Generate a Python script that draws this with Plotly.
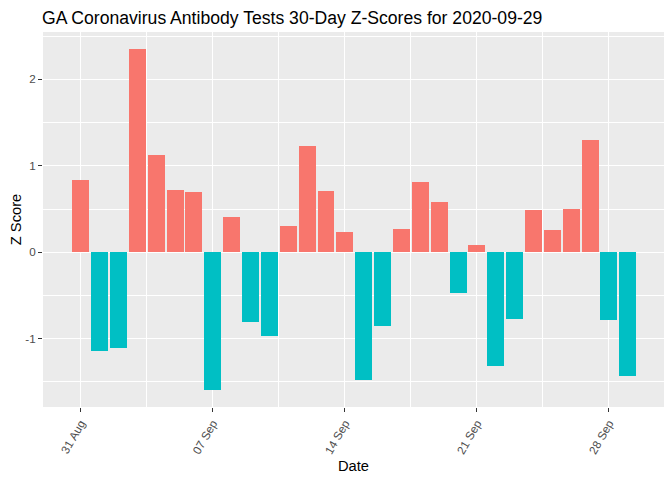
import plotly.graph_objects as go
import pandas as pd

dates = pd.date_range("2020-08-31", "2020-09-29", freq="D").strftime("%Y-%m-%d").tolist()
z_scores = [0.834, -1.143, -1.108, 2.351, 1.124, 0.718, 0.695, -1.595, 0.405, -0.807,
            -0.969, 0.301, 1.228, 0.707, 0.232, -1.479, -0.853, 0.266, 0.811, 0.579,
            -0.471, 0.081, -1.317, -0.772, 0.486, 0.255, 0.498, 1.297, -0.784, -1.432]
x_tick_vals = ["2020-08-31", "2020-09-07", "2020-09-14", "2020-09-21", "2020-09-28"]
x_tick_text = ["31 Aug", "07 Sep", "14 Sep", "21 Sep", "28 Sep"]
y_tick_vals = [-1, 0, 1, 2]
y_tick_text = ["-1", "0", "1", "2"]

POS = "#F8766D"
NEG = "#00BFC4"
colors = [POS if v > 0 else NEG for v in z_scores]

fig = go.Figure(go.Bar(
    x=dates, y=z_scores, marker=dict(color=colors, line=dict(width=0)),
    width=0.9 * 86400000, showlegend=False,
))

font = "Liberation Sans, Arial, sans-serif"
fig.update_layout(
    width=672, height=480,
    paper_bgcolor="white", plot_bgcolor="#EBEBEB",
    margin=dict(l=43, r=8, t=32, b=73),
    font=dict(family=font, color="black"),
    bargap=0,
    title=dict(text="GA Coronavirus Antibody Tests 30-Day Z-Scores for 2020-09-29",
               x=42/672, xanchor="left", y=1-18/480, yanchor="middle",
               font=dict(size=17.6, color="black", family=font)),
)
fig.update_xaxes(
    type="date", range=["2020-08-29 00:00", "2020-09-30 22:00"],
    tickvals=x_tick_vals, ticktext=x_tick_text, tickangle=-60,
    tickfont=dict(size=11.7, color="#4D4D4D"),
    ticks="outside", ticklen=4, tickcolor="#333333", tickwidth=1,
    showgrid=True, gridcolor="white", gridwidth=1.1,
    minor=dict(tickvals=["2020-09-03 12:00", "2020-09-10 12:00", "2020-09-17 12:00", "2020-09-24 12:00"],
               showgrid=True, gridcolor="white", gridwidth=0.55, ticks=""),
    zeroline=False, showline=False,
    title=dict(text="Date", font=dict(size=14.7, color="black"), standoff=5),
    automargin=False,
)
fig.update_yaxes(
    range=[-1.79, 2.548],
    tickvals=y_tick_vals, ticktext=y_tick_text,
    tickfont=dict(size=11.7, color="#4D4D4D"),
    ticks="outside", ticklen=4, tickcolor="#333333", tickwidth=1,
    showgrid=True, gridcolor="white", gridwidth=1.1,
    minor=dict(tickvals=[-1.5, -0.5, 0.5, 1.5, 2.5], showgrid=True,
               gridcolor="white", gridwidth=0.55, ticks=""),
    zeroline=False, showline=False,
    title=dict(text="Z Score", font=dict(size=14.7, color="black"), standoff=0),
    automargin=False,
)
fig.write_html("out.html", config={"displayModeBar": False},
               post_script="document.body.style.margin='0';")
